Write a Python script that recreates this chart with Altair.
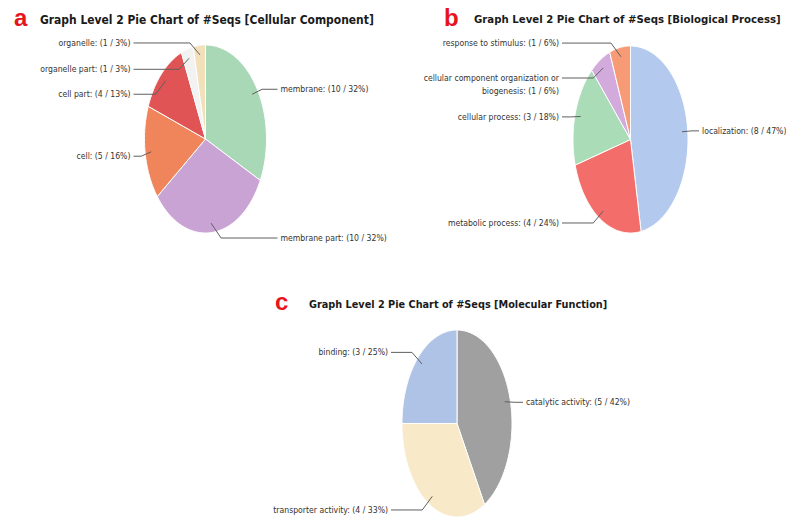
import altair as alt
import pandas as pd

# ---------------- data ----------------
a_cats = ["membrane", "membrane part", "cell", "cell part", "organelle part", "organelle"]
a_vals = [10, 10, 5, 4, 1, 1]
b_cats = ["localization", "metabolic process", "cellular process",
          "cellular component organization or biogenesis", "response to stimulus"]
b_vals = [8, 4, 3, 1, 1]
c_cats = ["catalytic activity", "transporter activity", "binding"]
c_vals = [5, 4, 3]

panel_letters = ["a", "b", "c"]
panel_titles = ["Graph Level 2 Pie Chart of #Seqs [Cellular Component]",
                "Graph Level 2 Pie Chart of #Seqs [Biological Process]",
                "Graph Level 2 Pie Chart of #Seqs [Molecular Function]"]

# ---------------- styles / layout ----------------
a_colors = ["#a8d8b5", "#c9a3d4", "#f0845a", "#e05455", "#f2f2f2", "#f2e0bb"]
b_colors = ["#b4c9ee", "#f36d6b", "#a9dcb7", "#d3aadc", "#f69b76"]
c_colors = ["#a0a0a0", "#f8e9c8", "#aec3e6"]

# pie centre x, centre y, horizontal radius, vertical radius (pixels)
pie_geom = {"a": (205.5, 139, 61, 94), "b": (630.5, 139.5, 57.5, 93.5), "c": (457, 423.5, 55, 93.5)}
# vertical nudges of the slice labels (to keep them apart)
a_dy = [0, 5.5, 3, 20, 20, -2.5]
b_dy = [0, 4, 3, 18, -4.5]
c_dy = [3, 5.5, -5]
# title positions and sizes
letter_pos = {"a": (14, 19), "b": (444, 19), "c": (275, 303)}
title_pos = {"a": (40, 20), "b": (474, 20), "c": (309, 305)}
title_size = {"a": 11.95, "b": 11.3, "c": 10.8}

W, H = 786, 519
N = 72
LABEL_FONT = "DejaVu Sans Condensed, Liberation Sans, sans-serif"

rows = []
keys, colors = [], []
for pie, cats, vals, cols, dys in [("a", a_cats, a_vals, a_colors, a_dy),
                                    ("b", b_cats, b_vals, b_colors, b_dy),
                                    ("c", c_cats, c_vals, c_colors, c_dy)]:
    cx, cy, rx, ry = pie_geom[pie]
    for i, (cat, v, col, dy) in enumerate(zip(cats, vals, cols, dys)):
        key = f"{pie}|{cat}"
        keys.append(key)
        colors.append(col)
        rows.append(dict(pie=pie, cat=cat, value=v, idx=i, key=key,
                         cx=cx, cy=cy, rx=rx, ry=ry, dy=dy))
df = pd.DataFrame(rows)

xs = alt.Scale(domain=[0, W], range=[0, W], nice=False, zero=False)
ys = alt.Scale(domain=[0, H], range=[0, H], nice=False, zero=False)

base = (
    alt.Chart(df)
    .transform_joinaggregate(total="sum(value)", groupby=["pie"])
    .transform_window(cum="sum(value)", sort=[alt.SortField("idx")], groupby=["pie"], frame=[None, 0])
    .transform_calculate(t0="(datum.cum - datum.value) / datum.total")
    .transform_calculate(t1="datum.cum / datum.total")
    .transform_calculate(tm="(datum.cum - datum.value / 2) / datum.total")
    .transform_calculate(pct="round(100 * datum.value / datum.total)")
    .transform_calculate(side="sin(2 * PI * datum.tm) >= 0 ? 1 : -1")
)

wedges = (
    base.transform_calculate(steps=f"sequence(0, {N + 2})")
    .transform_flatten(["steps"])
    .transform_calculate(ang=f"2 * PI * (datum.t0 + (datum.t1 - datum.t0) * (datum.steps - 1) / {N})")
    .transform_calculate(px="datum.steps == 0 ? datum.cx : datum.cx + datum.rx * sin(datum.ang)")
    .transform_calculate(py="datum.steps == 0 ? datum.cy : datum.cy - datum.ry * cos(datum.ang)")
    .mark_line(interpolate="linear-closed", stroke="white", strokeWidth=1, strokeJoin="round")
    .encode(
        x=alt.X("px:Q", scale=xs, axis=None),
        y=alt.Y("py:Q", scale=ys, axis=None),
        fill=alt.Fill("key:N", scale=alt.Scale(domain=keys, range=colors), legend=None),
        detail="key:N",
        order=alt.Order("steps:Q"),
    )
)

lab = (
    base.transform_calculate(ex="datum.cx + 0.9 * datum.rx * sin(2 * PI * datum.tm)")
    .transform_calculate(ey="datum.cy - 0.9 * datum.ry * cos(2 * PI * datum.tm)")
    .transform_calculate(ly="datum.cy - datum.ry * cos(2 * PI * datum.tm) + datum.dy")
    .transform_calculate(lx="datum.cx + datum.side * (datum.rx + 14)")
    .transform_calculate(label="replace(datum.cat, ' or biogenesis', ' or\\nbiogenesis') + ': (' + datum.value + ' / ' + datum.pct + '%)'")
)

leaders = (
    lab.transform_calculate(k="sequence(0, 3)")
    .transform_flatten(["k"])
    .transform_calculate(qx="datum.k == 0 ? datum.ex : (datum.k == 1 ? datum.ex + datum.side * 10 : datum.lx - datum.side * 3)")
    .transform_calculate(qy="datum.k == 0 ? datum.ey : datum.ly")
    .mark_line(color="#5f5f5f", strokeWidth=1)
    .encode(
        x=alt.X("qx:Q", scale=xs, axis=None),
        y=alt.Y("qy:Q", scale=ys, axis=None),
        detail="key:N",
        order=alt.Order("k:Q"),
    )
)

def label_layer(side, align):
    return (
        lab.transform_filter(f"datum.side == {side}")
        .mark_text(align=align, baseline="middle", font=LABEL_FONT, fontSize=8.6,
                   color="#333333", lineBreak="\n", lineHeight=13)
        .encode(
            x=alt.X("lx:Q", scale=xs, axis=None),
            y=alt.Y("ly:Q", scale=ys, axis=None),
            text="label:N",
        )
    )

tdf = pd.DataFrame({
    "letter": panel_letters,
    "title": panel_titles,
    "lxp": [letter_pos[p][0] for p in panel_letters],
    "lyp": [letter_pos[p][1] for p in panel_letters],
    "txp": [title_pos[p][0] for p in panel_letters],
    "typ": [title_pos[p][1] for p in panel_letters],
    "fs": [title_size[p] for p in panel_letters],
})

letters = alt.Chart(tdf).mark_text(
    align="left", baseline="middle", font="Liberation Sans, Arial, sans-serif",
    fontSize=24, fontWeight="bold", color="#e8141c"
).encode(
    x=alt.X("lxp:Q", scale=xs, axis=None),
    y=alt.Y("lyp:Q", scale=ys, axis=None),
    text="letter:N",
)

titles = alt.Chart(tdf).mark_text(
    align="left", baseline="middle", font=LABEL_FONT,
    fontWeight="bold", color="#1a1a1a"
).encode(
    x=alt.X("txp:Q", scale=xs, axis=None),
    y=alt.Y("typ:Q", scale=ys, axis=None),
    size=alt.Size("fs:Q", scale=None, legend=None),
    text="title:N",
)

chart = alt.layer(
    wedges, leaders, label_layer(-1, "right"), label_layer(1, "left"), letters, titles
).properties(
    width=W, height=H, padding=0, autosize=alt.AutoSizeParams(type="none"), background="white"
).configure_view(stroke=None)

chart.save("out.html", embed_options={"renderer": "svg", "actions": False})
